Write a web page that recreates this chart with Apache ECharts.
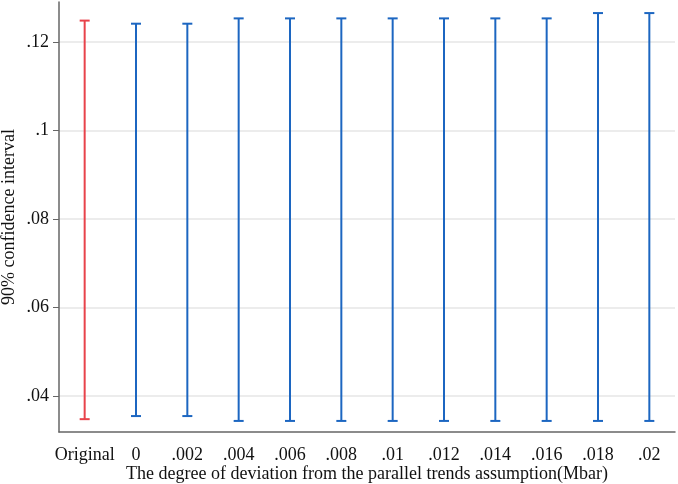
<!DOCTYPE html>
<html>
<head>
<meta charset="utf-8">
<script src="https://cdn.jsdelivr.net/npm/echarts@6/dist/echarts.min.js"></script>
<style>
  html, body { margin: 0; padding: 0; background: #fff; }
  #main { width: 678px; height: 484px; }
</style>
</head>
<body>
<div id="main"></div>
<script>
// categories and CI bounds
var categories = ['Original', '0', '.002', '.004', '.006', '.008', '.01', '.012', '.014', '.016', '.018', '.02'];
var lower = [0.0348, 0.0355, 0.0355, 0.0344, 0.0344, 0.0344, 0.0344, 0.0344, 0.0344, 0.0344, 0.0344, 0.0344];
var upper = [0.1248, 0.1241, 0.1241, 0.1253, 0.1253, 0.1253, 0.1253, 0.1253, 0.1253, 0.1253, 0.1265, 0.1265];
var yTicks = [0.04, 0.06, 0.08, 0.1, 0.12];

var RED = '#e8434b';
var BLUE = '#1c66c1';
var FONT = 'Liberation Serif';

var myChart = echarts.init(document.getElementById('main'));

var ciData = categories.map(function (c, i) {
    return [i, lower[i], upper[i]];
});

option = {
    animation: false,
    grid: {
        left: 59,
        right: 3,
        top: 2,
        bottom: 52,
        outerBoundsMode: 'none',
        containLabel: false
    },
    xAxis: {
        type: 'category',
        data: categories,
        boundaryGap: true,
        name: 'The degree of deviation from the parallel trends assumption(Mbar)',
        nameLocation: 'middle',
        nameGap: 33,
        nameMoveOverlap: false,
        nameTextStyle: { fontFamily: FONT, fontSize: 18, color: '#111' },
        axisLine: { lineStyle: { color: '#666', width: 1.5 } },
        axisTick: { alignWithLabel: true, length: 6, lineStyle: { color: '#666' } },
        axisLabel: { fontFamily: FONT, fontSize: 18, color: '#111', margin: 14, interval: 0 },
        splitLine: { show: false }
    },
    yAxis: {
        type: 'value',
        min: 0.0319,
        max: 0.129,
        name: '90% confidence interval',
        nameLocation: 'middle',
        nameGap: 41,
        nameMoveOverlap: false,
        nameTextStyle: { fontFamily: FONT, fontSize: 18, color: '#111' },
        axisLine: { show: true, lineStyle: { color: '#666', width: 1.5 } },
        axisTick: { show: true, length: 6, customValues: yTicks, lineStyle: { color: '#666' } },
        axisLabel: {
            fontFamily: FONT, fontSize: 18, color: '#111', margin: 10,
            customValues: yTicks,
            formatter: function (v) { return String(+v.toFixed(3)).replace(/^0/, ''); }
        },
        splitLine: { show: false }
    },
    series: [
        {
            type: 'custom',
            data: ciData,
            encode: { x: 0, y: [1, 2] },
            renderItem: function (params, api) {
                var i = api.value(0);
                var lo = api.coord([i, api.value(1)]);
                var hi = api.coord([i, api.value(2)]);
                var hw = 5;
                var color = i === 0 ? RED : BLUE;
                var style = { stroke: color, lineWidth: 2 };
                return {
                    type: 'group',
                    children: [
                        { type: 'line', shape: { x1: lo[0], y1: lo[1], x2: hi[0], y2: hi[1] }, style: style },
                        { type: 'line', shape: { x1: hi[0] - hw, y1: hi[1], x2: hi[0] + hw, y2: hi[1] }, style: style },
                        { type: 'line', shape: { x1: lo[0] - hw, y1: lo[1], x2: lo[0] + hw, y2: lo[1] }, style: style }
                    ]
                };
            },
            markLine: {
                silent: true,
                symbol: 'none',
                label: { show: false },
                lineStyle: { color: '#e6e6e6', type: 'solid', width: 1.5 },
                data: yTicks.map(function (t) { return { yAxis: t }; }),
                z: 0
            },
            z: 3
        }
    ]
};

myChart.setOption(option);
</script>
</body>
</html>
